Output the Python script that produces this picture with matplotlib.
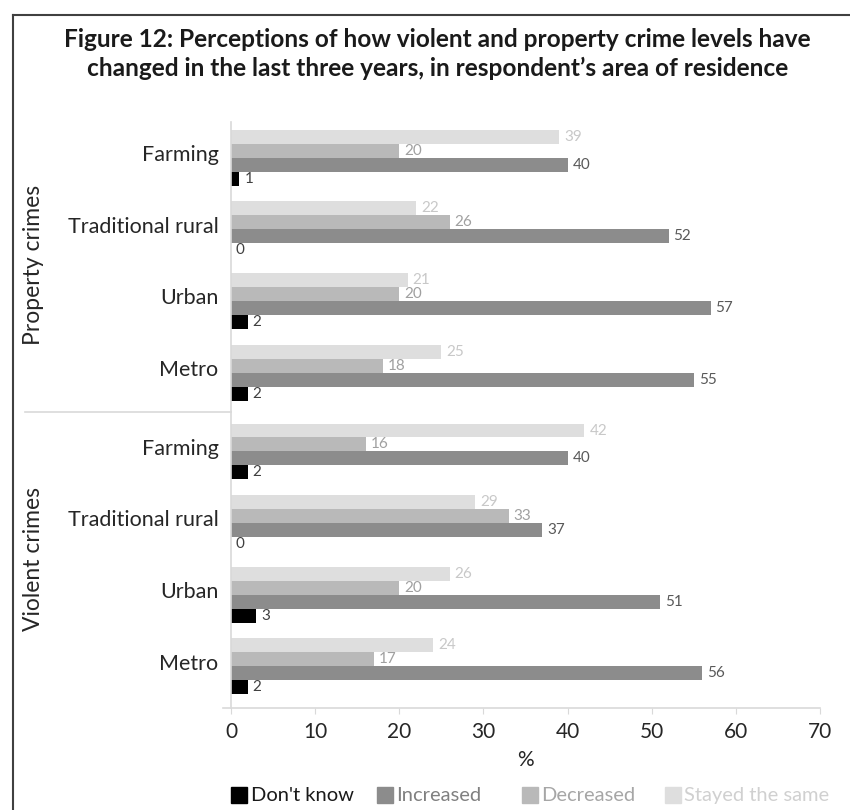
import matplotlib.pyplot as plt
import numpy as np

# Perceived change in crime levels, % of respondents
areas = ['Farming', 'Traditional rural', 'Urban', 'Metro']
groups = ['Property crimes', 'Violent crimes']
series = ["Don't know", 'Increased', 'Decreased', 'Stayed the same']

dont_know = [1, 0, 2, 2, 2, 0, 3, 2]
increased = [40, 52, 57, 55, 40, 37, 51, 56]
decreased = [20, 26, 20, 18, 16, 33, 20, 17]
stayed_same = [39, 22, 21, 25, 42, 29, 26, 24]

xticks = [0, 10, 20, 30, 40, 50, 60, 70]

BAR_COLORS = ['#000000', '#8c8c8c', '#b9b9b9', '#dedede']
VALUE_COLORS = ['#404040', '#595959', '#a0a0a0', '#c8c8c8']
LEGEND_COLORS = ['#1a1a1a', '#808080', '#a6a6a6', '#d0d0d0']
AXIS_GRAY = '#d9d9d9'
TEXT = '#262626'
FONT = ['Lato', 'DejaVu Sans']


def main():
    fig = plt.figure(figsize=(8.5, 8.1), dpi=100)
    ax = fig.add_axes([0.2718, 0.126, 0.693, 0.7235])

    values = [dont_know, increased, decreased, stayed_same]
    n_rows = len(dont_know)
    # small extra gap between the two crime types
    y = np.arange(n_rows) + 0.1 * (np.arange(n_rows) >= 4)
    h = 0.195
    # bottom-to-top inside each group: don't know, increased, decreased, same
    offsets = [1.5 * h, 0.5 * h, -0.5 * h, -1.5 * h]

    for vals, off, col, vcol in zip(values, offsets, BAR_COLORS, VALUE_COLORS):
        ax.barh(y + off, vals, height=h, color=col, linewidth=0)
        for yi, v in zip(y + off, vals):
            ax.annotate(f'{v}', (v, yi), xytext=(3.5, 0), textcoords='offset points',
                        va='center', ha='left', fontsize=11, color=vcol, family=FONT)

    ax.set_xlim(0, 70)
    ax.set_ylim(7.68, -0.5)
    ax.set_xticks(xticks)
    ax.set_xticklabels([str(t) for t in xticks], fontsize=15, color=TEXT,
                       family=FONT)
    ax.set_yticks([])
    ax.tick_params(axis='x', length=4, color=AXIS_GRAY, pad=6)
    ax.set_xlabel('%', fontsize=15, color=TEXT, family=FONT, labelpad=6)

    for side in ['top', 'right']:
        ax.spines[side].set_visible(False)
    for side in ['left', 'bottom']:
        ax.spines[side].set_color(AXIS_GRAY)
        ax.spines[side].set_linewidth(1.2)
    ax.spines['bottom'].set_bounds(-0.9, 70)

    # category labels, two levels
    for i in range(n_rows):
        ax.annotate(areas[i % 4], (0, y[i] - 0.04), xytext=(-9, 0),
                    textcoords='offset points', ha='right', va='center',
                    fontsize=15.5, color=TEXT, family=FONT)
    trans = ax.get_yaxis_transform()
    for g, name in enumerate(groups):
        ax.text(-0.335, y[4 * g:4 * g + 4].mean(), name, rotation=90, ha='center',
                va='center', fontsize=16.5, color=TEXT, family=FONT, transform=trans)
    sep = (y[3] + y[4]) / 2
    ax.plot([-0.35, 0], [sep, sep], color=AXIS_GRAY, lw=1.2, transform=trans,
            clip_on=False)

    # legend row, entries placed along the bottom edge
    sq_x = [0.2718, 0.4435, 0.614, 0.782]
    sq_w, sq_h = 0.019, 0.02
    for x0, c, name, tc in zip(sq_x, BAR_COLORS, series, LEGEND_COLORS):
        fig.add_artist(plt.Rectangle((x0, 0.009), sq_w, sq_h, color=c,
                                     transform=fig.transFigure))
        fig.text(x0 + sq_w + 0.004, 0.0185, name, ha='left', va='center',
                 fontsize=14.5, color=tc, family=FONT)

    fig.text(0.515, 0.933,
             'Figure 12: Perceptions of how violent and property crime levels have\n'
             "changed in the last three years, in respondent\u2019s area of residence",
             ha='center', va='center', fontsize=17.6, fontweight='bold',
             color='#1a1a1a', family=FONT, linespacing=1.3)

    # outer frame: left and top edges
    fig.add_artist(plt.Line2D([0.0155, 0.0155], [0, 0.9815], color='#404040', lw=1.5))
    fig.add_artist(plt.Line2D([0.0155, 1.0], [0.9815, 0.9815], color='#404040', lw=1.5))

    plt.savefig('out.png', dpi=100)
    plt.close()


if __name__ == '__main__':
    main()
